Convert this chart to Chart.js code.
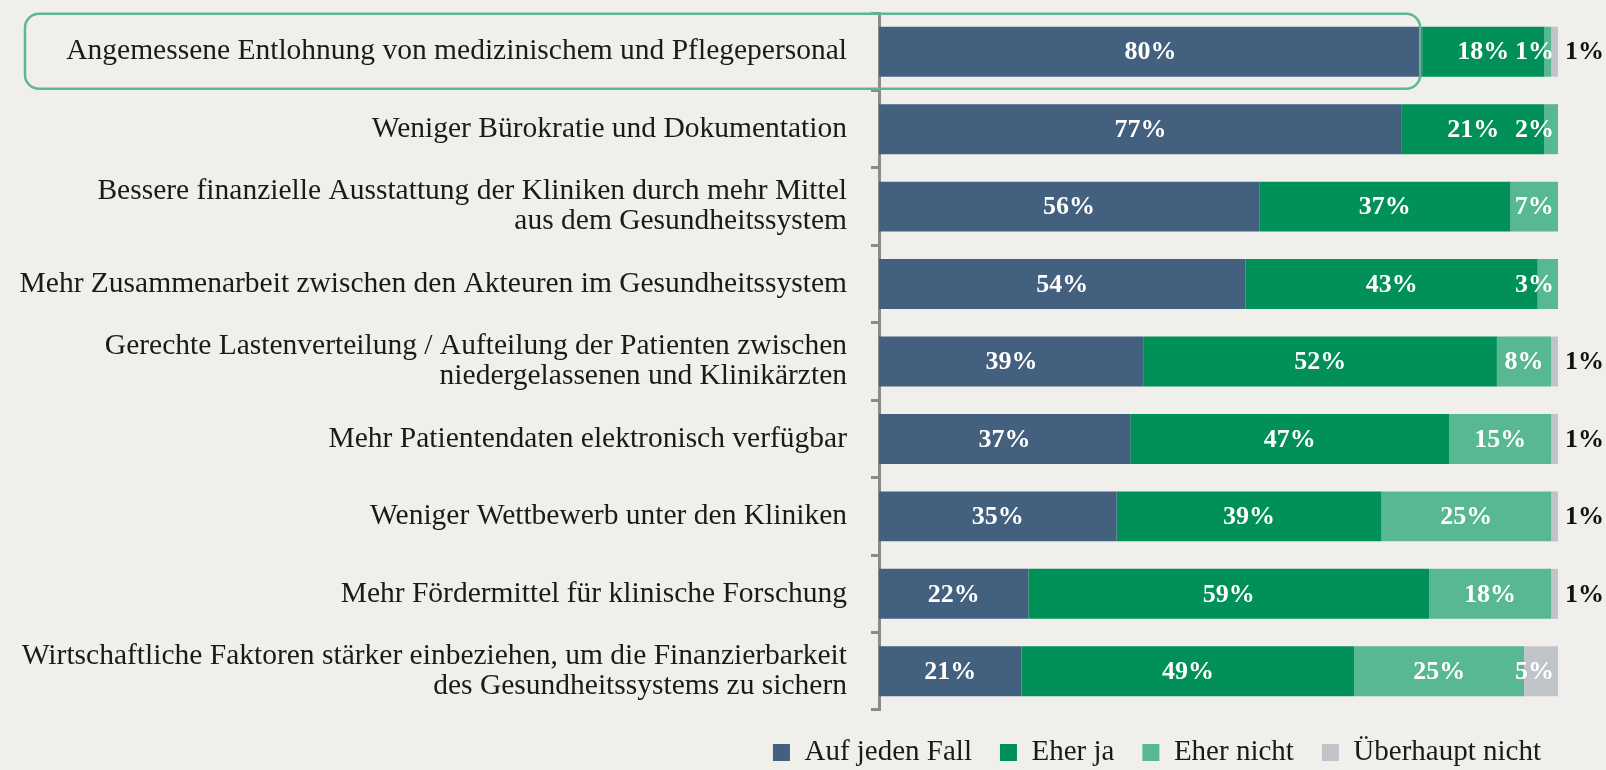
<!DOCTYPE html>
<html lang="de">
<head>
<meta charset="utf-8">
<script src="https://cdn.jsdelivr.net/npm/chart.js@4.4.1/dist/chart.umd.min.js"></script>
<style>
  html, body { margin: 0; padding: 0; background: #f0efeb; }
  #wrap { width: 1606px; height: 770px; position: relative; }
</style>
</head>
<body>
<div id="wrap"><canvas id="chart"></canvas></div>
<script>
// Categories (top to bottom)
const categories = [
    "Angemessene Entlohnung von medizinischem und Pflegepersonal",
    "Weniger Bürokratie und Dokumentation",
    ["Bessere finanzielle Ausstattung der Kliniken durch mehr Mittel", "aus dem Gesundheitssystem"],
    "Mehr Zusammenarbeit zwischen den Akteuren im Gesundheitssystem",
    ["Gerechte Lastenverteilung / Aufteilung der Patienten zwischen", "niedergelassenen und Klinikärzten"],
    "Mehr Patientendaten elektronisch verfügbar",
    "Weniger Wettbewerb unter den Kliniken",
    "Mehr Fördermittel für klinische Forschung",
    ["Wirtschaftliche Faktoren stärker einbeziehen, um die Finanzierbarkeit", "des Gesundheitssystems zu sichern"]
];

const seriesNames = ["Auf jeden Fall", "Eher ja", "Eher nicht", "Überhaupt nicht"];

// Shares in %
const aufJedenFall    = [80, 77, 56, 54, 39, 37, 35, 22, 21];
const eherJa          = [18, 21, 37, 43, 52, 47, 39, 59, 49];
const eherNicht       = [1, 2, 7, 3, 8, 15, 25, 18, 25];
const ueberhauptNicht = [1, 0, 0, 0, 1, 1, 1, 1, 5];

const highlightIndex = 0;

const colors = ["#44607f", "#009058", "#58b894", "#c0c4c8"];
const SERIF = '"Liberation Serif", "DejaVu Serif", serif';

// rounded frame around the highlighted row
const highlightBox = {
    id: "highlightBox",
    afterDatasetsDraw(chart) {
        const ctx = chart.ctx;
        const xs = chart.scales.x;
        const ys = chart.scales.y;
        const cy = ys.getPixelForValue(highlightIndex);
        const x0 = 25;
        const x1 = xs.getPixelForValue(aufJedenFall[highlightIndex]) - 2;
        ctx.save();
        ctx.strokeStyle = "#5bb894";
        ctx.lineWidth = 2.5;
        ctx.beginPath();
        ctx.roundRect(x0, cy - 38, x1 - x0, 75, 14);
        ctx.stroke();
        ctx.restore();
    }
};

// percentage labels inside / next to the bars
const segmentLabels = {
    id: "segmentLabels",
    afterDatasetsDraw(chart) {
        const ctx = chart.ctx;
        const barEnd = chart.scales.x.getPixelForValue(100);
        ctx.save();
        ctx.font = "bold 26px " + SERIF;
        ctx.textBaseline = "middle";
        chart.data.datasets.forEach((ds, di) => {
            const meta = chart.getDatasetMeta(di);
            meta.data.forEach((bar, i) => {
                const v = ds.data[i];
                if (!v) return;
                const txt = v + "%";
                const w = ctx.measureText(txt).width;
                if (di === 3 && v < 3) {
                    ctx.fillStyle = "#111";
                    ctx.textAlign = "left";
                    ctx.fillText(txt, barEnd + 7, bar.y + 1);
                    return;
                }
                let cx = (bar.base + bar.x) / 2;
                cx = Math.min(cx, barEnd - 4 - w / 2);
                ctx.fillStyle = "#fff";
                ctx.textAlign = "center";
                ctx.fillText(txt, cx, bar.y + 1);
            });
        });
        ctx.restore();
    }
};

// legend sits a bit further right than the plot padding allows
const legendShift = {
    id: "legendShift",
    afterLayout(chart) {
        if (!chart.legend) return;
        chart.legend.left += 11;
        chart.legend.right += 11;
    }
};

const values = [aufJedenFall, eherJa, eherNicht, ueberhauptNicht];

new Chart(document.getElementById("chart"), {
    type: "bar",
    data: {
        labels: categories,
        datasets: seriesNames.map((name, i) => ({
            label: name,
            data: values[i],
            backgroundColor: colors[i],
            borderWidth: 0,
            barPercentage: 1,
            categoryPercentage: 0.645
        }))
    },
    options: {
        indexAxis: "y",
        responsive: true,
        maintainAspectRatio: false,
        animation: false,
        layout: { padding: { top: 13, right: 48, bottom: -7, left: 0 } },
        scales: {
            x: { stacked: true, min: 0, max: 100, display: false },
            y: {
                stacked: true,
                afterFit: scale => {
                    scale.width = 879;
                    scale.paddingTop = 0;
                    scale.paddingBottom = 0;
                },
                grid: {
                    offset: true,
                    drawOnChartArea: false,
                    drawTicks: true,
                    tickLength: 8,
                    tickColor: "#8a8a8a",
                    tickWidth: 3
                },
                border: { display: true, color: "#8a8a8a", width: 3 },
                ticks: {
                    color: "#1a1a1a",
                    padding: 24,
                    font: { family: SERIF, size: 29.5, lineHeight: 1.02 }
                }
            }
        },
        plugins: {
            tooltip: { enabled: false },
            legend: {
                position: "bottom",
                align: "end",
                labels: {
                    color: "#1a1a1a",
                    boxWidth: 17,
                    boxHeight: 17,
                    padding: 28,
                    font: { family: SERIF, size: 29 }
                }
            }
        }
    },
    plugins: [highlightBox, segmentLabels, legendShift]
});
</script>
</body>
</html>
